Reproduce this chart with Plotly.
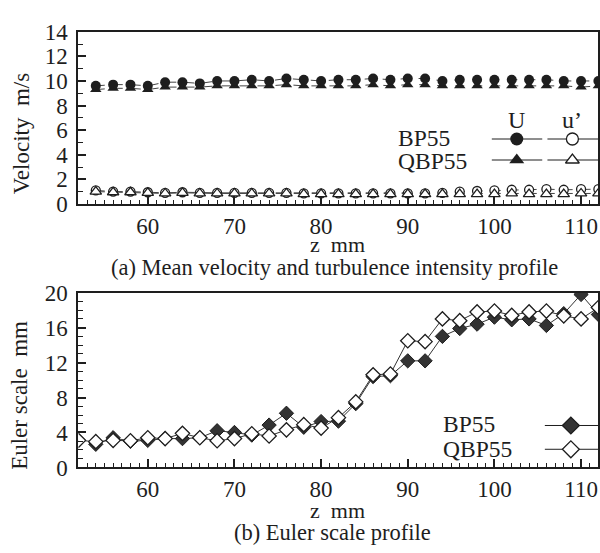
import plotly.graph_objects as go

# ---------------- data ----------------
z_top = [54, 56, 58, 60, 62, 64, 66, 68, 70, 72, 74, 76, 78, 80, 82, 84, 86, 88,
         90, 92, 94, 96, 98, 100, 102, 104, 106, 108, 110, 112]
U_BP55 = [9.6, 9.7, 9.7, 9.6, 9.9, 9.9, 9.8, 10.0, 10.0, 10.1, 10.0, 10.2, 10.1, 10.0,
          10.1, 10.1, 10.2, 10.1, 10.2, 10.2, 10.0, 10.1, 10.1, 10.1, 10.1, 10.1, 10.1,
          10.0, 10.0, 10.0]
U_QBP55 = [9.3, 9.4, 9.4, 9.3, 9.5, 9.5, 9.5, 9.6, 9.6, 9.6, 9.6, 9.7, 9.6, 9.6,
           9.6, 9.6, 9.7, 9.6, 9.7, 9.7, 9.6, 9.6, 9.6, 9.6, 9.6, 9.6, 9.6,
           9.6, 9.5, 9.6]
u_BP55 = [1.1, 1.0, 1.0, 0.95, 0.9, 0.95, 0.9, 0.9, 0.9, 0.9, 0.9, 0.9, 0.85, 0.85,
          0.85, 0.85, 0.85, 0.85, 0.85, 0.85, 0.9, 1.0, 1.05, 1.1, 1.15, 1.15, 1.2,
          1.15, 1.2, 1.2]
u_QBP55 = [1.0, 0.95, 0.95, 0.9, 0.85, 0.9, 0.85, 0.85, 0.85, 0.85, 0.85, 0.85, 0.8, 0.8,
           0.8, 0.8, 0.8, 0.8, 0.8, 0.8, 0.8, 0.8, 0.8, 0.8, 0.85, 0.8, 0.8,
           0.8, 0.85, 0.85]

z_bot_BP55 = [54, 56, 58, 60, 62, 64, 66, 68, 70, 72, 74, 76, 78, 80, 82, 84, 86, 88,
              90, 92, 94, 96, 98, 100, 102, 104, 106, 108, 110, 112]
L_BP55 = [2.65, 3.4, 3.0, 3.1, 3.3, 3.3, 3.4, 4.2, 4.0, 3.7, 4.85, 6.2, 4.6, 5.25,
          5.3, 7.3, 10.4, 10.5, 12.2, 12.2, 15.0, 15.9, 16.4, 17.2, 16.9, 17.0, 16.25,
          17.6, 19.8, 17.5]
z_bot_QBP55 = [52, 54, 56, 58, 60, 62, 64, 66, 68, 70, 72, 74, 76, 78, 80, 82, 84, 86, 88,
               90, 92, 94, 96, 98, 100, 102, 104, 106, 108, 110, 112]
L_QBP55 = [3.1, 2.95, 3.1, 3.05, 3.4, 3.3, 3.9, 3.4, 3.05, 3.3, 3.85, 3.6, 4.3, 4.9, 4.5,
           5.7, 7.5, 10.6, 10.7, 14.5, 14.4, 17.0, 16.8, 17.8, 17.9, 17.4, 17.8, 17.9,
           17.35, 17.0, 18.3]

x_ticks = [60, 70, 80, 90, 100, 110]
y1_ticks = [0, 2, 4, 6, 8, 10, 12, 14]
y2_ticks = [0, 4, 8, 12, 16, 20]

# ---------------- styling ----------------
FONT = "Liberation Serif, Times New Roman, serif"
INK = "#1e1e1e"
X_RANGE = [52, 112]
W, H = 600, 553

fig = go.Figure()

# top panel traces
fig.add_trace(go.Scatter(x=z_top, y=U_QBP55, mode="lines+markers", xaxis="x", yaxis="y",
                         line=dict(color="#444", width=1, dash="dash"),
                         marker=dict(symbol="triangle-up", size=10, color=INK)))
fig.add_trace(go.Scatter(x=z_top, y=U_BP55, mode="lines+markers", xaxis="x", yaxis="y",
                         line=dict(color="#444", width=1, dash="dash"),
                         marker=dict(symbol="circle", size=10, color=INK)))
fig.add_trace(go.Scatter(x=z_top, y=u_BP55, mode="lines+markers", xaxis="x", yaxis="y",
                         line=dict(color="#444", width=1, dash="dash"),
                         marker=dict(symbol="circle", size=9, color="white", line=dict(width=1.3, color=INK))))
fig.add_trace(go.Scatter(x=z_top, y=u_QBP55, mode="lines+markers", xaxis="x", yaxis="y",
                         line=dict(color="#444", width=1, dash="dash"),
                         marker=dict(symbol="triangle-up", size=10, color="white",
                                     line=dict(width=1.3, color=INK))))

# bottom panel traces
fig.add_trace(go.Scatter(x=z_bot_BP55, y=L_BP55, mode="lines+markers", xaxis="x2", yaxis="y2",
                         line=dict(color="#333", width=1),
                         marker=dict(symbol="diamond", size=11, color="#333",
                                     line=dict(width=1, color=INK))))
fig.add_trace(go.Scatter(x=z_bot_QBP55, y=L_QBP55, mode="lines+markers", xaxis="x2", yaxis="y2",
                         line=dict(color="#333", width=1),
                         marker=dict(symbol="diamond", size=11, color="white",
                                     line=dict(width=1.3, color=INK))))

# ---------------- legend glyphs (in axis fractions) ----------------
def fx(f):
    return X_RANGE[0] + f * (X_RANGE[1] - X_RANGE[0])

# top legend: U column (filled) and u' column (open)
top_rows = [(14 * 0.377, "circle"), (14 * 0.255, "triangle-up")]
for yv, sym in top_rows:
    fig.add_trace(go.Scatter(x=[fx(0.795), fx(0.892)], y=[yv, yv], mode="lines", xaxis="x", yaxis="y",
                             line=dict(color=INK, width=1)))
    fig.add_trace(go.Scatter(x=[fx(0.843)], y=[yv], mode="markers", xaxis="x", yaxis="y",
                             marker=dict(symbol=sym, size=13, color=INK)))
    fig.add_trace(go.Scatter(x=[fx(0.902), fx(1.0)], y=[yv, yv], mode="lines", xaxis="x", yaxis="y",
                             line=dict(color=INK, width=1)))
    fig.add_trace(go.Scatter(x=[fx(0.95)], y=[yv], mode="markers", xaxis="x", yaxis="y",
                             marker=dict(symbol=sym, size=12, color="white",
                                         line=dict(width=1.3, color=INK))))

# bottom legend
bot_rows = [(20 * 0.24, "#333"), (20 * 0.104, "white")]
for yv, fill in bot_rows:
    fig.add_trace(go.Scatter(x=[fx(0.897), fx(1.0)], y=[yv, yv], mode="lines", xaxis="x2", yaxis="y2",
                             line=dict(color=INK, width=1)))
    fig.add_trace(go.Scatter(x=[fx(0.947)], y=[yv], mode="markers", xaxis="x2", yaxis="y2",
                             marker=dict(symbol="diamond", size=13, color=fill,
                                         line=dict(width=1.3, color=INK))))

# ---------------- axes ----------------
def xaxis_common(anchor):
    return dict(range=X_RANGE, tickvals=x_ticks, ticks="inside", ticklen=8, tickwidth=1.5,
                tickcolor=INK, showline=True, linewidth=2, linecolor=INK, mirror=True,
                showgrid=False, zeroline=False, anchor=anchor, domain=[78.6 / W, 599.4 / W],
                tickfont=dict(family=FONT, size=23, color=INK), ticklabelstandoff=0,
                minor=dict(ticks="inside", ticklen=4, dtick=1, tickwidth=1, tickcolor=INK, showgrid=False))


def yaxis_common(anchor, rng, ticks, dom):
    return dict(range=rng, tickvals=ticks, ticks="inside", ticklen=8, tickwidth=1.5,
                tickcolor=INK, showline=True, linewidth=2, linecolor=INK, mirror=True,
                showgrid=False, zeroline=False, anchor=anchor, domain=dom,
                tickfont=dict(family=FONT, size=23, color=INK), ticklabelstandoff=4,
                minor=dict(ticks="inside", ticklen=5, dtick=1, tickwidth=1, tickcolor=INK, showgrid=False))


fig.update_layout(
    width=W, height=H, margin=dict(l=0, r=0, t=0, b=0),
    paper_bgcolor="white", plot_bgcolor="white", showlegend=False,
    font=dict(family=FONT, color=INK),
    xaxis=xaxis_common("y"),
    yaxis=yaxis_common("x", [0, 14], y1_ticks, [1 - 201 / H, 1 - 20.7 / H]),
    xaxis2=xaxis_common("y2"),
    yaxis2=yaxis_common("x2", [0, 20], y2_ticks, [1 - 477 / H, 1 - 294 / H]),
)

def ann(text, px, py, size, angle=0, xanchor="center"):
    fig.add_annotation(text=text, x=px / W, y=1 - py / H, xref="paper", yref="paper",
                       showarrow=False, textangle=angle, xanchor=xanchor, yanchor="middle",
                       borderpad=0, font=dict(family=FONT, size=size, color=INK))

ann("Velocity  m/s", 21, 127, 23, angle=-90)
ann("Euler scale  mm", 20, 401, 23, angle=-90)
ann("z  mm", 338, 243, 22)
ann("(a) Mean velocity and turbulence intensity profile", 335, 268, 22.5)
ann("z  mm", 338, 522, 22)
ann("(b) Euler scale profile", 333, 545, 22.5)
# legend labels
ann("BP55", 398, 132, 23.5, xanchor="left")
ann("QBP55", 398, 156, 23.5, xanchor="left")
ann("U", 517, 113, 24)
ann("u’", 573, 113, 24)
ann("BP55", 443, 432, 23.5, xanchor="left")
ann("QBP55", 443, 458, 23.5, xanchor="left")

fig.write_html("out.html")
